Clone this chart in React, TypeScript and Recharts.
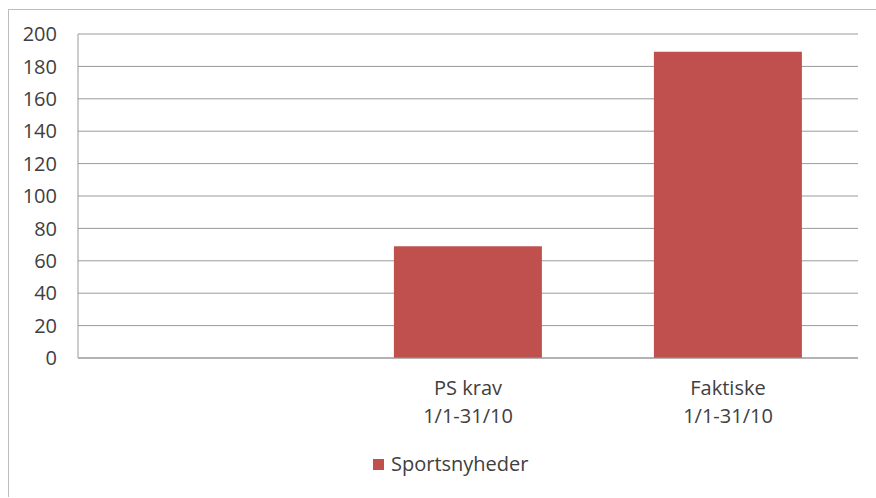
import { Bar, BarChart, CartesianGrid, Legend, XAxis, YAxis } from "recharts";

const categories = ["", "PS krav\n1/1-31/10", "Faktiske\n1/1-31/10"];
const sportsnyheder = [null, 69, 189];
const yTicks = [0, 20, 40, 60, 80, 100, 120, 140, 160, 180, 200];

const data = categories.map((name, i) => ({ name, value: sportsnyheder[i] }));

const FONT = "'Open Sans', 'Liberation Sans', sans-serif";
const TEXT = "#404040";
const GRID = "#9a9a9a";
const BAR = "#c0504d";

function CategoryTick({ x, y, payload }: any) {
  const lines = String(payload.value).split("\n");
  return (
    <text x={x} y={y} textAnchor="middle" fill={TEXT} fontSize={20} fontFamily={FONT}>
      {lines.map((line, i) => (
        <tspan key={i} x={x} dy={i === 0 ? 37 : 28}>
          {line}
        </tspan>
      ))}
    </text>
  );
}

function LegendBox() {
  return (
    <div style={{ display: "flex", alignItems: "center", fontFamily: FONT, fontSize: 20, lineHeight: "20px", color: TEXT }}>
      <span style={{ width: 11, height: 11, background: BAR, display: "inline-block", marginRight: 7 }} />
      <span>Sportsnyheder</span>
    </div>
  );
}

export default function App() {
  return (
    <div
      style={{
        position: "absolute",
        left: 8,
        top: 9,
        borderTop: "1px solid #bdbdbd",
        borderLeft: "1px solid #bdbdbd",
        background: "#fff",
        fontFamily: FONT,
      }}
    >
      <BarChart
        width={867}
        height={487}
        data={data}
        margin={{ top: 24, right: 18, left: 0, bottom: 59 }}
        barCategoryGap="21.5%"
      >
        <CartesianGrid stroke={GRID} vertical={false} />
        <XAxis
          dataKey="name"
          height={80}
          tickLine={false}
          tickSize={0}
          tickMargin={0}
          axisLine={{ stroke: GRID }}
          tick={<CategoryTick />}
          interval={0}
        />
        <YAxis
          width={69}
          domain={[0, 200]}
          ticks={yTicks}
          tickLine={false}
          tickSize={0}
          tickMargin={21}
          axisLine={{ stroke: GRID }}
          tick={{ fill: TEXT, fontSize: 20, fontFamily: FONT }}
        />
        <Legend
          verticalAlign="middle"
          layout="horizontal"
          content={() => <LegendBox />}
          wrapperStyle={{ left: 364, top: 444, width: "auto" }}
        />
        <Bar dataKey="value" name="Sportsnyheder" fill={BAR} isAnimationActive={false} />
      </BarChart>
    </div>
  );
}
